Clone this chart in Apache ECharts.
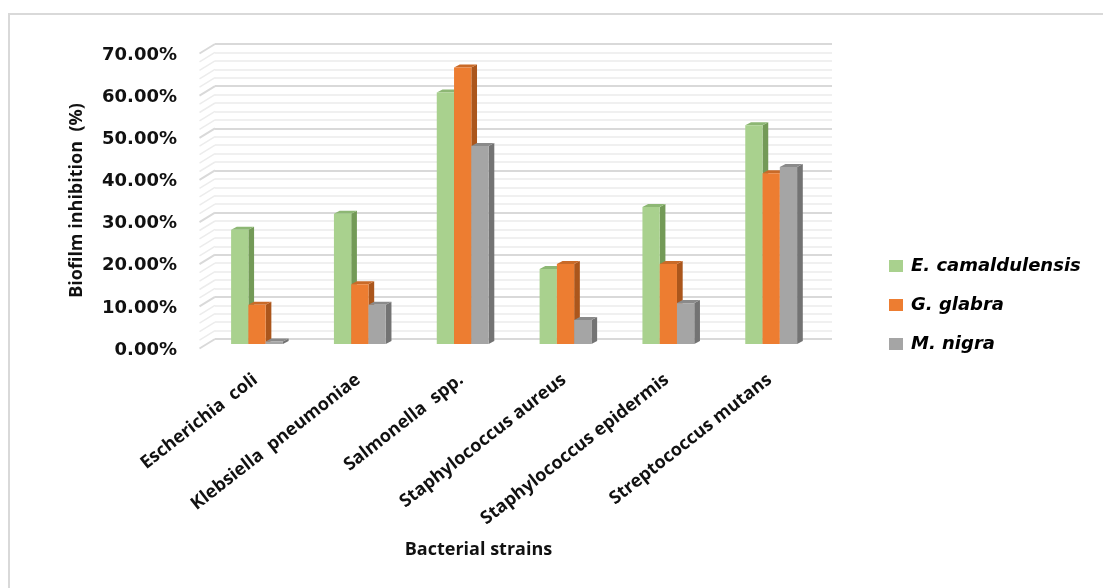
<!DOCTYPE html>
<html>
<head>
<meta charset="utf-8">
<script src="https://cdn.jsdelivr.net/npm/echarts@6/dist/echarts.min.js"></script>
<style>
  html, body { margin: 0; padding: 0; background: #fff; }
  #chart { width: 1103px; height: 588px; }
</style>
</head>
<body>
<div id="chart"></div>
<script>
// 菌株与三种提取物的生物膜抑制率 (%)
const strains = [
  'Escherichia  coli',
  'Klebsiella  pneumoniae',
  'Salmonella  spp.',
  'Staphylococcus aureus',
  'Staphylococcus epidermis',
  'Streptococcus mutans',
];
const seriesNames = ['E. camaldulensis', 'G. glabra', 'M. nigra'];
const camaldulensis = [27.1, 30.9, 59.7, 17.8, 32.5, 51.9];
const glabra = [9.3, 14.2, 65.6, 19.0, 19.0, 40.5];
const nigra = [0.6, 9.3, 47.0, 5.7, 9.7, 42.0];

const faceColors = [
  { front: '#a9d18e', side: '#739a57', top: '#8db774' },
  { front: '#ed7d31', side: '#ab561c', top: '#c96a28' },
  { front: '#a5a5a5', side: '#737373', top: '#8a8a8a' },
];

const TITLE_FONT = "'Open Sans', 'Liberation Sans', sans-serif";
const GRID_LEFT = 215;
const GRID_TOP = 44;
const GRID_RIGHT = 271;
const GRID_BOTTOM = 249;
const SHIFT_X = -9.4; // bars sit half way into the depth
const SHIFT_Y = 5;
const DEPTH_X = 5.7; // visible side/top face
const DEPTH_Y = 3;

function barRenderer(idx) {
  return function (params, api) {
    const cat = api.value(0);
    const base = api.coord([cat, 0]);
    const top = api.coord([cat, api.value(1)]);
    const band = api.size([1, 0])[0];
    const w = band * 0.168;
    const x0 = base[0] + SHIFT_X + (idx - 1.5) * w;
    const x1 = x0 + w;
    const yb = base[1] + SHIFT_Y;
    const yt = top[1] + SHIFT_Y;
    const c = faceColors[idx];
    return {
      type: 'group',
      children: [
        {
          type: 'polygon',
          shape: { points: [[x1, yt], [x1 + DEPTH_X, yt - DEPTH_Y], [x1 + DEPTH_X, yb - DEPTH_Y], [x1, yb]] },
          style: { fill: c.side },
        },
        {
          type: 'polygon',
          shape: { points: [[x0, yt], [x0 + DEPTH_X, yt - DEPTH_Y], [x1 + DEPTH_X, yt - DEPTH_Y], [x1, yt]] },
          style: { fill: c.top },
        },
        {
          type: 'rect',
          shape: { x: x0, y: yt, width: w, height: yb - yt },
          style: { fill: c.front },
        },
      ],
    };
  };
}

const chart = echarts.init(document.getElementById('chart'));

const values = [camaldulensis, glabra, nigra];

chart.setOption({
  backgroundColor: '#fff',
  animation: false,
  grid: { left: GRID_LEFT, right: GRID_RIGHT, top: GRID_TOP, bottom: GRID_BOTTOM },
  legend: {
    orient: 'vertical',
    left: 889,
    top: 256,
    padding: 0,
    icon: 'rect',
    itemWidth: 14,
    itemHeight: 12,
    itemGap: 19,
    data: seriesNames,
    textStyle: {
      fontFamily: 'DejaVu Sans',
      fontWeight: 'bold',
      fontStyle: 'italic',
      fontSize: 18,
      lineHeight: 20,
      padding: [0, 0, 0, 3],
      color: '#000',
    },
  },
  xAxis: {
    type: 'category',
    data: strains,
    axisLine: { show: false },
    axisTick: { show: false },
    splitLine: { show: false },
    axisLabel: {
      interval: 0,
      rotate: 38,
      margin: 30,
      padding: [0, 14, 0, 0],
      fontFamily: TITLE_FONT,
      fontWeight: 'bold',
      fontSize: 18,
      color: '#111',
    },
    name: 'Bacterial strains',
    nameLocation: 'middle',
    nameGap: 202,
    nameTextStyle: {
      fontFamily: TITLE_FONT,
      fontWeight: 'bold',
      fontSize: 18,
      color: '#111',
      padding: [0, 90, 0, 0],
    },
  },
  yAxis: {
    type: 'value',
    min: 0,
    max: 70,
    interval: 10,
    axisLine: { show: false },
    axisTick: { show: false },
    minorTick: { show: false, splitNumber: 5 },
    splitLine: { lineStyle: { color: '#d9d9d9', width: 2 } },
    minorSplitLine: { show: true, lineStyle: { color: '#ececec', width: 1.5 } },
    axisLabel: {
      margin: 38,
      verticalAlign: 'top',
      padding: [2, 0, 0, 0],
      fontFamily: 'DejaVu Sans',
      fontWeight: 'bold',
      fontSize: 18,
      color: '#111',
      formatter: (v) => v.toFixed(2) + '%',
    },
    name: 'Biofilm inhibition  (%)',
    nameLocation: 'middle',
    nameRotate: 90,
    nameGap: 129,
    nameTextStyle: {
      fontFamily: TITLE_FONT,
      fontWeight: 'bold',
      fontSize: 18,
      color: '#111',
      padding: [0, 18, 0, 0],
    },
  },
  series: seriesNames.map((name, idx) => ({
    name,
    type: 'custom',
    renderItem: barRenderer(idx),
    itemStyle: { color: faceColors[idx].front },
    encode: { x: 0, y: 1 },
    data: values[idx].map((v, i) => [i, v]),
  })),
});

// 左侧墙的斜线和外框
const graphics = [
  {
    type: 'rect',
    shape: { x: 9, y: 14, width: 1110, height: 600 },
    style: { fill: null, stroke: '#d9d9d9', lineWidth: 2 },
    silent: true,
  },
];
for (let v = 0; v <= 70; v += 2) {
  const y = chart.convertToPixel({ yAxisIndex: 0 }, v);
  const major = v % 10 === 0;
  graphics.push({
    type: 'line',
    shape: { x1: GRID_LEFT, y1: y, x2: GRID_LEFT - 15.5, y2: y + 9.5 },
    style: { stroke: major ? '#d9d9d9' : '#ececec', lineWidth: major ? 2 : 1.5 },
    silent: true,
  });
}
chart.setOption({ graphic: graphics });
</script>
</body>
</html>
